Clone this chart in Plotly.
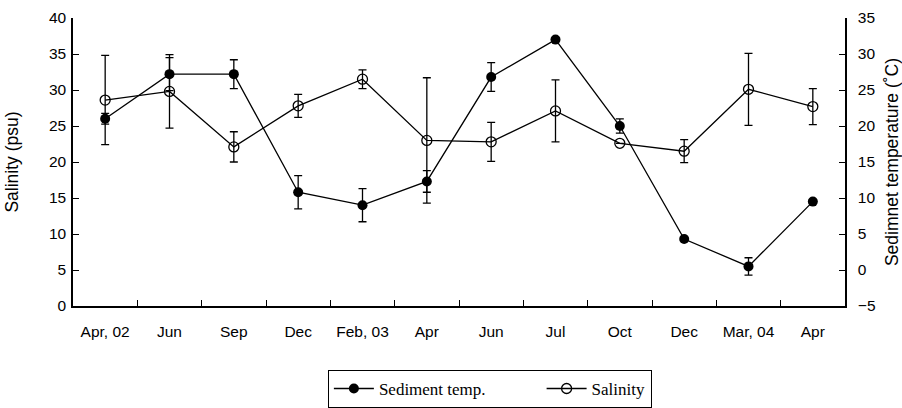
import plotly.graph_objects as go

ids = [f"c{i}" for i in range(12)]
labels = ["Apr, 02", "Jun", "Sep", "Dec", "Feb, 03", "Apr", "Jun", "Jul", "Oct", "Dec", "Mar, 04", "Apr"]

salinity = [28.6, 29.8, 22.1, 27.8, 31.5, 23.0, 22.8, 27.1, 22.6, 21.5, 30.1, 27.7]
salinity_err = [6.2, 5.1, 2.1, 1.6, 1.3, 8.7, 2.7, 4.3, 0.0, 1.6, 5.0, 2.5]

temp = [21.0, 27.2, 27.2, 10.8, 9.0, 12.3, 26.8, 32.0, 20.0, 4.3, 0.5, 9.5]
temp_err = [0.75, 2.3, 2.0, 2.3, 2.3, 1.5, 2.0, 0.0, 1.0, 0.0, 1.2, 0.0]

NB = "\u00a0"
fig = go.Figure()
fig.add_trace(go.Scatter(
    x=ids, y=temp, name="Sediment temp." + NB * 12, yaxis="y2", mode="lines+markers",
    line=dict(color="black", width=1.3),
    marker=dict(symbol="circle", size=10, color="black"),
    error_y=dict(type="data", array=temp_err, visible=True, color="black", thickness=1.3, width=4),
))
fig.add_trace(go.Scatter(
    x=ids, y=salinity, name="Salinity", mode="lines+markers",
    line=dict(color="black", width=1.3),
    marker=dict(symbol="circle-open", size=10, color="black", line=dict(width=1.3)),
    error_y=dict(type="data", array=salinity_err, visible=True, color="black", thickness=1.3, width=4),
))

tick_font = dict(family="Liberation Sans, Arial", size=15.5, color="black")
title_font = dict(family="Liberation Sans, Arial", size=17.5, color="black")
fig.update_layout(
    width=902, height=408,
    margin=dict(l=73, r=57, t=18, b=102, autoexpand=False),
    paper_bgcolor="white", plot_bgcolor="white",
    font=tick_font,
    xaxis=dict(
        type="category", tickmode="array", tickvals=ids, ticktext=labels,
        tickson="boundaries", ticks="inside", ticklen=6, tickcolor="black",
        showline=True, linecolor="black", linewidth=1.5, showgrid=False,
        range=[-0.5, 11.5], tickfont=tick_font, zeroline=False,
        ticklabelstandoff=11, automargin=False,
    ),
    yaxis=dict(
        range=[0, 40], dtick=5, ticks="inside", ticklen=6, tickcolor="black",
        showline=True, linecolor="black", linewidth=1.5, showgrid=False, zeroline=False,
        title=dict(text="Salinity (psu)", font=title_font, standoff=26),
        tickfont=tick_font, ticklabelstandoff=2, automargin=False,
    ),
    yaxis2=dict(
        range=[-5, 35], dtick=5, overlaying="y", side="right",
        ticks="inside", ticklen=6, tickcolor="black",
        showline=True, linecolor="black", linewidth=1.5, showgrid=False, zeroline=False,
        title=dict(text="Sedimnet temperature (˚C)", font=title_font, standoff=12),
        tickfont=tick_font, ticklabelstandoff=8, automargin=False,
    ),
    legend=dict(
        orientation="h", x=0.54, xanchor="center", y=-0.222, yanchor="top",
        bordercolor="black", borderwidth=1, bgcolor="white",
        font=dict(family="Liberation Serif, Times New Roman", size=17, color="black"),
        itemwidth=40,
    ),
    showlegend=True,
)

fig.write_html("out.html", config={"displayModeBar": False},
               post_script="document.body.style.margin='0';document.body.style.padding='0';")
